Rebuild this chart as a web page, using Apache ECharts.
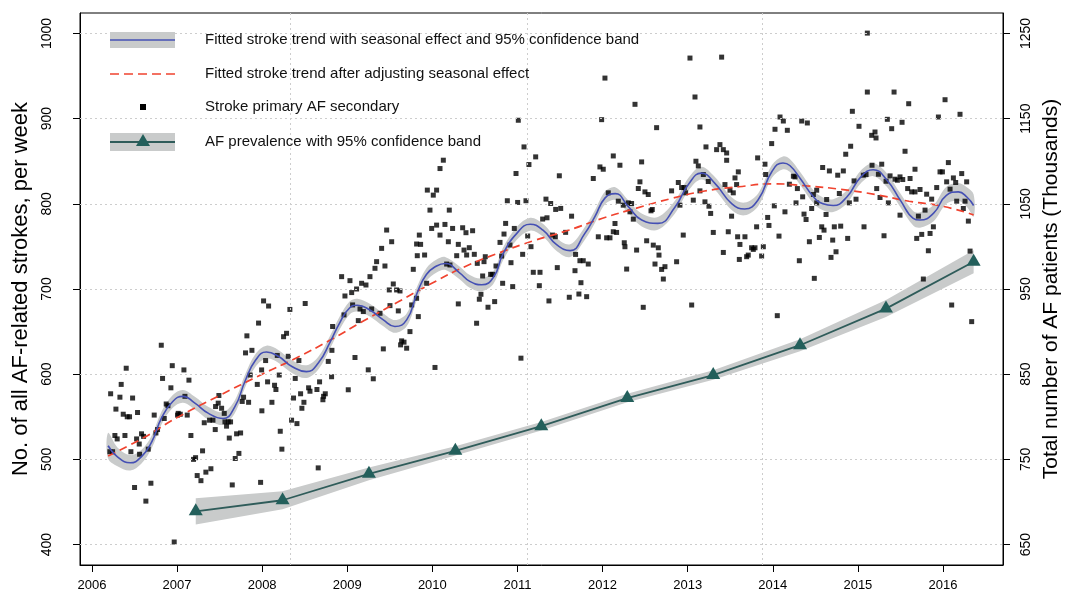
<!DOCTYPE html>
<html>
<head>
<meta charset="utf-8">
<script src="https://cdn.jsdelivr.net/npm/echarts@6/dist/echarts.min.js"></script>
<style>
html,body{margin:0;padding:0;background:#fff;}
#chart{width:1072px;height:601px;}
</style>
</head>
<body>
<div id="chart"></div>
<script>
// ---------- data ----------
const yearTicks = [2006, 2007, 2008, 2009, 2010, 2011, 2012, 2013, 2014, 2015, 2016];
const strokeTicks = [400, 500, 600, 700, 800, 900, 1000];
const prevalenceTicks = [650, 750, 850, 950, 1050, 1150, 1250];
const verticalGridYears = [2008.33, 2011.11, 2013.88];

// weekly counts: stroke primary, AF secondary  [decimal year, count]
const strokeWeekly = [
[2006.220,577],[2006.329,573],[2006.478,572],[2006.282,559],[2006.368,553],[2006.415,550],[2006.442,550],[2006.536,555],[2006.344,588],[2006.403,607],[2006.815,634],[2006.944,610],[2007.081,605],[2007.140,593],[2006.830,595],[2006.928,584],[2006.873,565],[2006.893,563],[2007.014,554],[2007.038,553],[2007.006,552],[2007.120,552],[2006.732,552],[2006.850,548],[2006.771,535],[2006.752,531],[2006.583,530],[2006.607,527],[2006.525,524],[2006.556,518],[2006.662,512],[2006.560,506],[2006.458,509],[2006.388,528],[2006.270,528],[2006.297,524],[2006.211,509],[2006.243,509],[2006.693,472],[2006.501,467],[2006.634,451],[2006.967,403],[2007.093,574],[2007.163,528],[2007.194,500],[2007.218,502],[2007.300,510],[2007.237,481],[2007.281,475],[2007.339,485],[2007.398,489],[2007.320,543],[2007.382,546],[2007.422,546],[2007.449,535],[2007.453,562],[2007.484,566],[2007.492,575],[2007.524,560],[2007.555,554],[2007.563,544],[2007.602,544],[2007.629,544],[2007.582,539],[2007.614,525],[2007.700,530],[2007.747,531],[2007.727,507],[2007.684,501],[2007.649,470],[2007.766,568],[2007.782,573],[2007.841,567],[2007.821,645],[2007.805,625],[2007.880,628],[2007.958,660],[2007.860,599],[2007.943,588],[2007.994,605],[2008.041,616],[2008.064,591],[2008.146,587],[2008.162,582],[2008.115,567],[2007.997,557],[2008.017,686],[2008.076,680],[2008.326,676],[2008.506,683],[2008.252,644],[2008.287,648],[2008.178,622],[2008.201,599],[2008.307,621],[2008.432,616],[2008.389,595],[2008.213,533],[2008.232,512],[2008.346,546],[2008.409,542],[2008.369,572],[2008.452,577],[2008.491,567],[2008.467,560],[2008.546,584],[2008.562,580],[2008.644,582],[2008.675,591],[2008.722,574],[2008.714,570],[2008.742,577],[2008.816,597],[2008.828,656],[2008.777,615],[2008.820,628],[2008.659,490],[2007.982,473],
[2008.934,714.5],[2009.032,709.8],[2008.973,691.8],[2009.052,695.8],[2009.110,700],[2009.169,706.7],[2009.220,704.7],[2009.267,714.5],[2008.962,669.6],[2009.063,681.3],[2009.150,676.6],[2009.130,662.9],[2009.189,673.5],[2009.287,676.6],[2009.326,724.3],[2009.345,732.1],[2009.404,747.7],[2009.443,727],[2009.463,769.2],[2009.522,755.5],[2009.494,698.9],[2009.541,705.9],[2009.580,698.9],[2009.620,697.7],[2009.502,680.5],[2009.600,674.3],[2009.385,671.5],[2009.424,629.7],[2009.091,619.6],[2009.247,605.1],[2009.306,594.6],[2009.012,581.7],[2009.639,639.1],[2009.667,637.6],[2009.698,630.5],[2009.627,634.4],[2009.737,650],[2009.757,681.3],[2009.815,689.1],[2009.776,723.1],[2009.815,752.8],[2009.847,763.3],[2009.862,752.4],[2009.823,739.1],[2009.909,739.9],[2009.933,706.7],[2009.835,667.6],[2010.031,607.9],[2009.941,816.1],[2010.011,810.2],[2010.050,816.1],[2009.972,792.6],[2009.992,771.1],[2010.050,775],[2010.148,775.8],[2010.090,763.3],[2010.129,851.2],[2010.090,841.4],[2010.199,792.6],[2010.238,771.1],[2010.188,755.5],[2010.168,729.3],[2010.207,728.2],[2010.286,739.1],[2010.305,682.5],[2010.305,752.4],[2010.356,771.9],[2010.395,766.1],[2010.372,745.7],[2010.403,739.9],[2010.434,748.5],[2010.473,768.4],[2010.493,740.7],[2010.520,659.8],[2010.528,730.1],[2010.552,688],[2010.571,693.8],[2010.591,715.3],[2010.607,732.1],[2010.622,737.9],[2010.654,678.6],[2010.685,717.2],[2010.708,717.2],[2010.732,685.2],[2010.748,727],[2010.795,754.7],[2010.814,738.7],[2010.826,706.7],[2010.842,764.5],[2010.861,777],[2010.881,803.6],[2010.912,751.6],[2010.924,730.9],[2010.944,702.8],[2010.983,835.6],[2011.010,898.1],[2011.002,801.6],[2011.077,866.8],[2011.100,803.6],[2011.135,846.1],[2011.214,855.1],[2010.963,771.1],[2011.041,618.8],[2011.061,740.7],[2011.120,762.2],[2011.159,749.7],[2011.186,719.6],[2011.265,719.6],[2011.257,703.9],[2011.370,686],[2011.335,805.5],[2011.390,800.4],[2011.449,793.4],[2011.508,794.6],[2011.492,832.9],[2011.296,782.1],[2011.347,783.6],[2011.413,763.3],[2011.445,761.4],[2011.468,725.1],[2011.566,766.5],[2011.609,690.3],
[2011.636,785.5],[2011.683,740.6],[2011.734,733.2],[2011.773,733.2],[2011.832,729.3],[2011.676,721.5],[2011.746,707.4],[2011.722,694.1],[2011.813,691],[2011.891,829.7],[2011.969,843.3],[2012.008,840.6],[2012.028,947.6],[2011.989,898.8],[2012.126,856.2],[2012.204,845.3],[2012.381,916.8],[2012.459,849.2],[2012.067,812.9],[2012.185,803.1],[2012.243,798.4],[2012.302,801.1],[2012.341,800.4],[2011.950,761.3],[2012.048,760.1],[2012.087,760.1],[2012.126,767.2],[2012.165,766.4],[2012.146,776.9],[2012.255,754.3],[2012.263,749.6],[2012.400,745.7],[2012.283,723.4],[2012.361,782],[2012.322,790.6],[2012.439,825.8],[2012.420,818],[2012.498,814],[2012.537,810.9],[2012.569,791.8],[2012.584,793.3],[2012.518,756.6],[2012.596,751.5],[2012.655,748.4],[2012.616,729.3],[2012.694,723],[2012.733,726.2],[2012.714,711.7],[2012.663,739.8],[2012.870,732],[2012.635,889.4],[2012.811,815.2],[2012.890,825],[2012.909,798.4],[2012.948,763.3],[2012.929,819.1],[2012.960,819.1],[2012.976,812.9],[2013.027,971.1],[2013.086,925.4],[2013.144,890.2],[2013.066,804.3],[2013.097,850],[2013.125,844.5],[2013.184,834.4],[2013.144,815.2],[2013.203,802.3],[2013.250,797.2],[2013.270,788.7],[2013.215,866.8],[2013.242,826.2],[2013.301,766.4],[2013.340,863.6],[2013.379,869.5],[2013.399,972.2],[2013.419,863.6],[2013.458,859.7],[2013.458,851.1],[2013.438,822.6],[2013.497,816],[2013.477,767.2],[2013.419,742.9],[2013.516,785.5],[2013.556,830.4],[2013.595,837.5],[2013.575,822.6],[2013.536,812.9],[2013.587,761.3],[2013.614,752.3],[2013.673,761.3],[2013.607,734.7],[2013.693,737.9],[2013.712,739.8],[2013.751,748.4],[2013.771,746.5],[2013.791,748.4],[2013.810,773],[2013.822,853.9],[2013.869,738.7],[2013.889,749.6],[2013.908,846.5],[2013.916,834.4],[2013.940,784],[2013.955,774.6],[2013.987,870.7],[2014.018,797.6],[2014.026,887.5],[2014.053,668.7],[2014.073,762.1],[2014.085,901.9],[2014.124,897.2],[2014.143,790.6],[2012.478,678.5],[2013.047,681.2],
[2014.171,886.3],[2014.340,897.2],[2014.406,894.9],[2014.242,832.4],[2014.261,831.6],[2014.195,823],[2014.289,817.9],[2014.273,801.1],[2014.351,808.2],[2014.367,787.9],[2014.391,781.6],[2014.457,794.5],[2014.477,810.9],[2014.516,816],[2014.516,801.1],[2014.586,842.6],[2014.665,838.6],[2014.763,833.6],[2014.829,838.6],[2014.782,812.1],[2014.633,805.1],[2014.626,787.5],[2014.575,773],[2014.602,769.1],[2014.723,773],[2014.798,773.8],[2014.704,757.4],[2014.547,760.5],[2014.430,755.5],[2014.880,759.4],[2014.743,743.7],[2014.684,737.1],[2014.312,733.2],[2014.488,712.5],[2014.857,858.2],[2014.915,867.6],[2014.935,908.6],[2015.013,891],[2014.955,826.9],[2014.978,805.4],[2014.900,801.1],[2015.064,833.6],[2015.096,834.4],[2015.166,845.3],[2015.280,846.5],[2015.241,834.7],[2015.221,817.9],[2015.260,807.4],[2015.358,801.1],[2015.331,826.5],[2015.378,832.8],[2015.436,828.9],[2015.464,827.7],[2015.495,831.6],[2015.527,828.5],[2015.162,880.4],[2015.201,884.3],[2015.213,877.3],[2015.111,931.2],[2015.425,931.2],[2015.346,899.2],[2015.397,888.2],[2015.519,895.7],[2015.597,917.5],[2015.554,861.7],[2015.671,840.6],[2015.613,829.7],[2015.585,817.9],[2015.632,814],[2015.671,814],[2015.730,816.8],[2015.808,811.3],[2015.867,805.5],[2015.926,819.1],[2015.495,786.7],[2015.711,785.5],[2015.789,792.6],[2015.691,759.4],[2015.750,764.1],[2015.848,765.2],[2015.887,773],[2015.828,744.9],[2015.072,773],[2015.307,762.5],[2015.769,711.7],[2015.965,837.5],[2015.993,837.5],[2016.043,825.8],[2016.083,817.2],[2016.063,848.4],[2016.122,830.4],[2016.149,825],[2016.220,835.5],[2016.278,825.8],[2016.161,803.1],[2016.259,803.1],[2016.239,794.5],[2016.298,779.7],[2016.318,744.5],[2015.946,901.9],[2016.024,922.2],[2016.200,905.1],[2016.102,681.2],[2016.337,661.7],[2015.111,1000.4]
];

// fitted trend with seasonal effect [year, value] and half-width of its 95% band
const seasonalFit = [
[2006.19,516],[2006.30,503],[2006.45,496],[2006.58,503],[2006.70,520],[2006.82,549],[2006.95,568],[2007.07,574],[2007.21,566],[2007.37,554],[2007.54,548],[2007.68,562],[2007.80,592],[2007.92,616],[2008.05,626],[2008.19,621],[2008.35,609],[2008.52,603],[2008.66,613],[2008.80,638],[2008.91,660],[2009.03,678],[2009.12,681],[2009.27,675],[2009.42,664],[2009.56,656],[2009.70,664],[2009.82,695],[2009.93,717],[2010.05,727],[2010.15,730],[2010.32,719],[2010.44,709],[2010.58,705],[2010.72,714],[2010.83,741],[2010.99,765],[2011.15,776],[2011.30,769],[2011.46,752],[2011.62,745],[2011.79,765],[2011.91,785],[2012.03,807],[2012.15,812],[2012.30,797],[2012.46,781],[2012.65,777],[2012.85,796],[2013.01,823],[2013.16,836],[2013.32,824],[2013.52,800],[2013.67,794],[2013.83,805],[2013.99,838],[2014.12,848],[2014.20,845],[2014.32,830],[2014.48,808],[2014.59,800],[2014.71,798],[2014.87,808],[2015.03,831],[2015.18,840],[2015.34,828],[2015.50,804],[2015.65,783],[2015.73,781],[2015.89,789],[2016.04,810],[2016.18,814],[2016.28,808],[2016.36,798]
];
const seasonalBandHalf = [15,11,9,8,7.5,7.5,7.5,7.5,7.5,7.5,7.5,7.5,7.5,7.5,7.5,7.5,7.5,7.5,7.5,7.5,7.5,7.5,7.5,7.5,7.5,7.5,7.5,7.5,7.5,7.5,7.5,7.5,7.5,7.5,7.5,7.5,7.5,7.5,7.5,7.5,7.5,7.5,7.5,7.5,7.5,7.5,7.5,7.5,7.5,7.5,7.5,7.5,7.5,7.5,7.5,7.5,7.5,7.5,7.5,7.5,7.5,7.5,7.5,7.5,7.5,8,8,8.5,9,9.5,10,10.5,11.5,13];

// fitted trend after adjusting seasonal effect
const trendFit = [
[2006.19,504],[2006.6,525],[2007.0,549],[2007.5,575],[2008.0,600],[2008.4,619],[2008.8,640],[2009.2,663],[2009.6,685],[2010.0,707],[2010.4,727],[2010.8,743],[2011.2,757],[2011.6,769],[2012.0,783],[2012.4,795],[2012.8,806],[2013.2,815],[2013.6,820],[2014.0,823.5],[2014.4,821],[2014.8,817],[2015.2,811],[2015.6,803],[2016.0,797],[2016.36,787]
];

// AF prevalence (thousands), right axis
const prevalenceYears = [2007.22, 2008.24, 2009.255, 2010.27, 2011.28, 2012.29, 2013.30, 2014.32, 2015.33, 2016.36];
const prevalenceValues = [689, 702, 733, 760, 789, 822, 849, 884, 927, 982];
const prevalenceBandHalf = [15.5, 10.5, 7.5, 5.5, 5, 5, 5.5, 7, 10, 13.5];

// ---------- chart ----------
const FONT = "'Liberation Sans', Arial, Helvetica, sans-serif";
const chart = echarts.init(document.getElementById('chart'), null, {renderer: 'canvas'});

function bandSeries(centre, half, yAxisIndex, color, smooth) {
  const upper = centre.map((p, i) => [p[0], p[1] + half[i]]);
  const lower = centre.map((p, i) => [p[0], p[1] - half[i]]);
  return {
    type: 'custom',
    coordinateSystem: 'cartesian2d',
    xAxisIndex: 0,
    yAxisIndex: yAxisIndex,
    silent: true,
    z: 2,
    data: [0],
    renderItem: function (params, api) {
      const pts = upper.map(p => api.coord(p)).concat(lower.slice().reverse().map(p => api.coord(p)));
      return {
        type: 'polygon',
        shape: {points: pts, smooth: smooth},
        style: {fill: color, stroke: null}
      };
    }
  };
}

const prevalenceData = prevalenceYears.map((y, i) => [y, prevalenceValues[i]]);

const legendX = 110, legendW = 65, legendTextX = 205;
const legendRows = [40, 74, 107, 142];
const legendLabels = [
  'Fitted stroke trend with seasonal effect and 95% confidence band',
  'Fitted stroke trend after adjusting seasonal effect',
  'Stroke primary AF secondary',
  'AF prevalence with 95% confidence band'
];

const graphics = [
  {type: 'rect', shape: {x: legendX, y: legendRows[0] - 8, width: legendW, height: 16}, style: {fill: '#c9cbcb'}, z: 10},
  {type: 'line', shape: {x1: legendX, y1: legendRows[0], x2: legendX + legendW, y2: legendRows[0]}, style: {stroke: '#4550b4', lineWidth: 1.6}, z: 11},
  {type: 'line', shape: {x1: legendX, y1: legendRows[1], x2: legendX + legendW, y2: legendRows[1]}, style: {stroke: '#f0432f', lineWidth: 1.6, lineDash: [9, 5]}, z: 11},
  {type: 'rect', shape: {x: 140, y: legendRows[2] - 3, width: 6, height: 6}, style: {fill: '#000'}, z: 11},
  {type: 'rect', shape: {x: legendX, y: legendRows[3] - 9, width: legendW, height: 18}, style: {fill: '#c9cbcb'}, z: 10},
  {type: 'line', shape: {x1: legendX, y1: legendRows[3], x2: legendX + legendW, y2: legendRows[3]}, style: {stroke: '#2f5c5a', lineWidth: 1.8}, z: 11},
  {type: 'polygon', shape: {points: [[143, legendRows[3] - 8], [150, legendRows[3] + 4], [136, legendRows[3] + 4]]}, style: {fill: '#235f5b'}, z: 12}
].concat(legendLabels.map((t, i) => ({
  type: 'text', x: legendTextX, y: legendRows[i], z: 12,
  style: {text: t, fill: '#111', font: '15px ' + FONT, textVerticalAlign: 'middle', textAlign: 'left'}
})));

const option = {
  animation: false,
  backgroundColor: '#fff',
  grid: {left: 80, right: 69, top: 13, bottom: 36, show: true, borderColor: '#000', borderWidth: 1, backgroundColor: 'transparent'},
  xAxis: {
    type: 'value', min: 2005.86, max: 2016.705,
    axisLine: {show: true, onZero: false, lineStyle: {color: '#000', width: 1}},
    axisTick: {show: true, length: 7, customValues: yearTicks, lineStyle: {color: '#000'}},
    axisLabel: {customValues: yearTicks, formatter: v => String(v), color: '#000', fontSize: 13, margin: 14, fontFamily: FONT},
    splitLine: {show: false}
  },
  yAxis: [
    {
      type: 'value', min: 376, max: 1024, position: 'left',
      name: 'No. of all AF-related strokes, per week', nameLocation: 'middle', nameRotate: 90, nameGap: 46,
      nameTextStyle: {fontSize: 22, color: '#000', fontFamily: FONT},
      axisLine: {show: true, onZero: false, lineStyle: {color: '#000', width: 1}},
      axisTick: {show: true, length: 7, customValues: strokeTicks, lineStyle: {color: '#000'}},
      axisLabel: {customValues: strokeTicks, formatter: v => String(v), rotate: 90, color: '#000', fontSize: 14, margin: 26, fontFamily: FONT},
      splitLine: {show: false}
    },
    {
      type: 'value', min: 626, max: 1274, position: 'right',
      name: 'Total number of AF patients (Thousands)', nameLocation: 'middle', nameRotate: 90, nameGap: 37,
      nameTextStyle: {fontSize: 21, color: '#000', fontFamily: FONT},
      axisLine: {show: true, onZero: false, lineStyle: {color: '#000', width: 1}},
      axisTick: {show: true, length: 7, customValues: prevalenceTicks, lineStyle: {color: '#000'}},
      axisLabel: {customValues: prevalenceTicks, formatter: v => String(v), rotate: 90, color: '#000', fontSize: 14, margin: 16, fontFamily: FONT},
      splitLine: {show: false}
    }
  ],
  graphic: graphics,
  series: [
    {
      type: 'line', data: [], silent: true, z: 1,
      markLine: {
        silent: true, symbol: ['none', 'none'], label: {show: false}, animation: false,
        lineStyle: {color: '#cdcdcd', type: [2, 3], width: 1},
        data: strokeTicks.map(v => ({yAxis: v})).concat(verticalGridYears.map(v => ({xAxis: v})))
      }
    },
    bandSeries(seasonalFit, seasonalBandHalf, 0, '#c9cbcb', 0.35),
    bandSeries(prevalenceData, prevalenceBandHalf, 1, '#c9cbcb', 0),
    {
      type: 'scatter', data: strokeWeekly, symbol: 'rect', symbolSize: 5,
      itemStyle: {color: '#000'}, silent: true, z: 3
    },
    {
      type: 'line', data: trendFit, smooth: 0.5, showSymbol: false, z: 4,
      lineStyle: {color: '#f0432f', width: 1.7, type: [8, 5]}
    },
    {
      type: 'line', data: seasonalFit, smooth: 0.5, showSymbol: false, z: 5,
      lineStyle: {color: '#4550b4', width: 1.6}
    },
    {
      type: 'line', yAxisIndex: 1, data: prevalenceData, smooth: false, z: 6,
      symbol: 'triangle', symbolSize: [14, 12], symbolOffset: [0, -2], showSymbol: true,
      itemStyle: {color: '#235f5b'},
      lineStyle: {color: '#2f5c5a', width: 1.8}
    }
  ]
};
chart.setOption(option);
</script>
</body>
</html>
